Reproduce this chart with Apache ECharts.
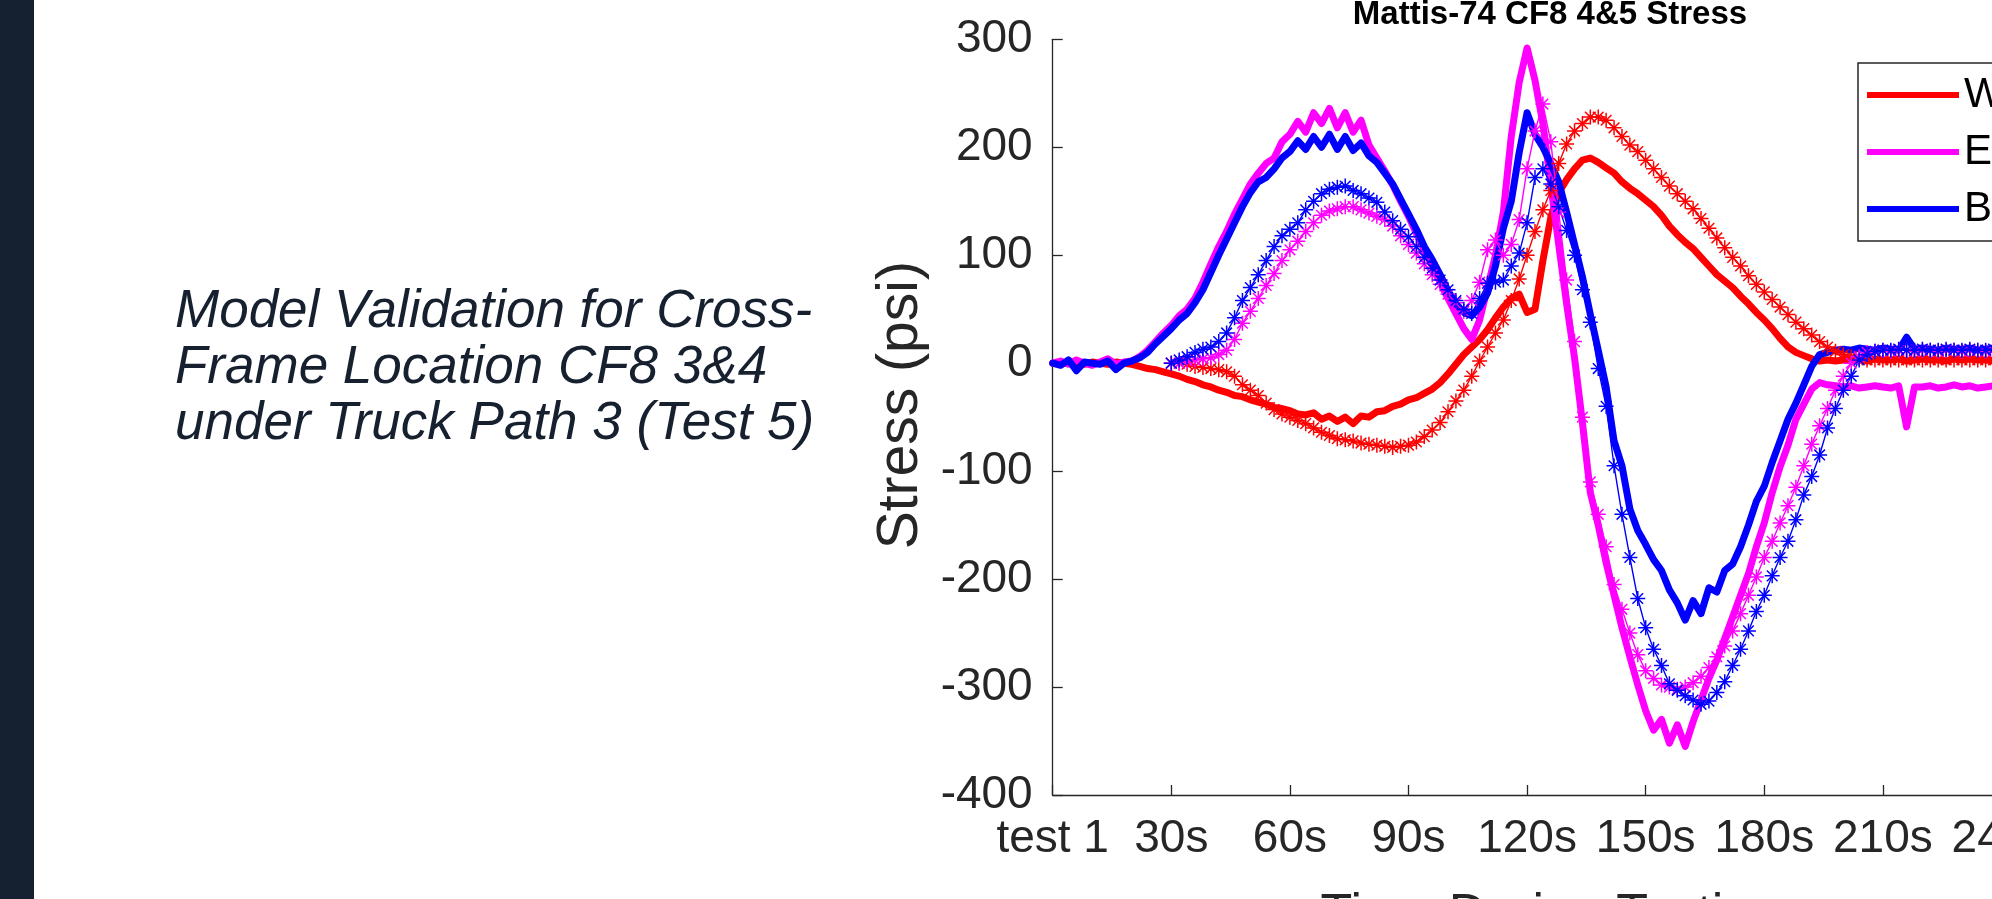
<!DOCTYPE html>
<html><head><meta charset="utf-8">
<script src="https://cdn.jsdelivr.net/npm/echarts@6/dist/echarts.min.js"></script>
<style>html,body{margin:0;padding:0;background:#fff;overflow:hidden;}#c{width:1992px;height:899px;}</style>
</head><body><div id="c"></div>
<script>
// ---- tick labels ----
const xTickLabels = ['test 1','30s','60s','90s','120s','150s','180s','210s','240s'];

// ---- time samples (seconds) ----
const tMeasured = [
  0,2,4,6,8,10,12,14,16,18,
  20,22,24,26,28,30,32,34,36,38,
  40,42,44,46,48,50,52,54,56,58,
  60,62,64,66,68,70,72,74,76,78,
  80,82,84,86,88,90,92,94,96,98,
  100,102,104,106,108,110,112,114,116,118,
  120,122,124,126,128,130,132,134,136,138,
  140,142,144,146,148,150,152,154,156,158,
  160,162,164,166,168,170,172,174,176,178,
  180,182,184,186,188,190,192,194,196,198,
  200,202,204,206,208,210,212,214,216,218,
  220,222,224,226,228,230,232,234,236,238,
  240,242,244,246,248,250
];
const tModel = [
  30,32,34,36,38,40,42,44,46,48,
  50,52,54,56,58,60,62,64,66,68,
  70,72,74,76,78,80,82,84,86,88,
  90,92,94,96,98,100,102,104,106,108,
  110,112,114,116,118,120,122,124,126,128,
  130,132,134,136,138,140,142,144,146,148,
  150,152,154,156,158,160,162,164,166,168,
  170,172,174,176,178,180,182,184,186,188,
  190,192,194,196,198,200,202,204,206,208,
  210,212,214,216,218,220,222,224,226,228,
  230,232,234,236,238,240,242,244,246,248,
  250
];

// ---- measured stress (psi) ----
const westMeasured = [
  0,-1,1,0,-1,1,0,-1,1,0,
  -1,-3,-5,-6,-8,-10,-12,-15,-17,-20,
  -22,-25,-27,-30,-31,-34,-36,-38,-41,-42,
  -44,-47,-48,-46,-52,-49,-54,-50,-56,-49,
  -50,-45,-44,-40,-38,-34,-32,-28,-24,-18,
  -10,-1,8,15,22,31,42,52,60,64,
  47,50,95,135,158,170,180,188,190,186,
  181,176,168,162,157,151,145,137,127,119,
  112,106,98,90,82,76,70,62,55,47,
  40,32,23,15,10,7,4,2,3,2,
  3,4,3,2,4,3,3,4,2,3,
  4,3,3,2,4,3,4,3,3,2,
  4,3,3,4,3,3
];
const eastMeasured = [
  0,2,-1,3,0,-2,1,4,-1,1,
  2,6,12,20,28,35,44,50,60,75,
  92,108,122,138,152,166,176,185,190,205,
  212,224,214,232,222,236,218,232,214,225,
  202,190,178,165,150,136,120,105,90,75,
  60,46,32,22,40,70,100,140,210,260,
  292,262,222,165,110,55,5,-55,-120,-150,
  -185,-215,-245,-272,-298,-322,-340,-330,-352,-335,
  -355,-332,-312,-292,-275,-255,-235,-215,-195,-170,
  -148,-120,-96,-76,-52,-38,-24,-18,-20,-21,
  -22,-21,-23,-22,-21,-22,-23,-21,-59,-22,
  -22,-21,-23,-22,-20,-22,-21,-23,-22,-21,
  -22,-20,-22,-21,-23,-22
];
const bottomMeasured = [
  0,-2,3,-7,1,0,-1,2,-6,0,
  2,5,10,18,25,32,40,46,56,68,
  84,100,115,130,145,158,168,172,180,190,
  196,206,198,210,200,212,198,210,197,204,
  192,186,176,166,152,138,124,108,96,82,
  67,55,47,44,52,65,90,125,150,195,
  232,212,200,185,168,140,110,80,45,12,
  -22,-72,-95,-135,-155,-168,-182,-192,-210,-222,
  -238,-220,-232,-208,-212,-192,-186,-170,-150,-128,
  -114,-92,-72,-52,-37,-20,-3,8,10,12,
  13,12,14,13,12,14,13,12,24,13,
  14,13,12,14,13,13,14,12,13,14,
  13,12,14,13,13,14
];

// ---- model stress (psi) ----
const westModel = [
  0,0,-1,-3,-4,-5,-6,-8,-12,-20,
  -25,-30,-37,-43,-47,-50,-53,-56,-60,-64,
  -67,-70,-71,-72,-74,-75,-76,-77,-78,-77,
  -76,-73,-68,-62,-55,-45,-35,-25,-12,2,
  15,28,40,58,78,100,122,142,160,185,
  203,215,222,228,228,225,218,210,202,196,
  188,180,172,164,157,150,143,134,125,116,
  107,98,90,81,73,66,59,52,45,38,
  32,26,20,15,11,8,6,4,3,3,
  3,3,3,3,3,3,3,3,3,3,
  3,3,3,3,3,3,3,3,3,3,
  3
];
const eastModel = [
  0,0,2,3,4,5,8,12,22,37,
  48,60,72,83,95,105,113,122,130,137,
  141,143,145,145,142,139,136,133,127,118,
  110,102,92,82,73,64,56,48,58,75,
  105,114,100,110,133,180,215,240,205,140,
  77,20,-50,-110,-140,-170,-205,-228,-250,-270,
  -285,-292,-298,-300,-302,-300,-296,-290,-282,-272,
  -262,-248,-232,-215,-198,-180,-165,-148,-132,-115,
  -95,-75,-58,-42,-25,-12,0,6,10,11,
  12,11,12,12,11,12,12,11,12,12,
  11,12,12,11,12,12,11,12,12,11,
  12
];
const bottomModel = [
  0,3,6,10,13,15,20,28,42,58,
  70,82,95,108,118,124,130,142,150,157,
  161,163,164,160,157,153,149,140,132,124,
  117,108,98,88,77,68,58,50,46,60,
  74,75,77,90,102,130,172,180,166,145,
  123,100,68,38,-5,-40,-95,-140,-180,-218,
  -245,-265,-280,-297,-303,-308,-312,-316,-313,-305,
  -295,-280,-265,-248,-230,-215,-197,-180,-165,-145,
  -122,-105,-85,-60,-42,-25,-12,3,8,11,
  12,12,13,12,12,13,12,12,13,12,
  12,13,12,12,13,12,12,13,12,12,
  12
];

const legendNames = ['West', 'East', 'Bottom'];

// ---- build ----
const FONT = '"Liberation Sans", Arial, Helvetica, sans-serif';
const TXT = '#262626';
const zip = (ts, vs) => ts.map((t, i) => [t, vs[i]]);
const STAR = 'path://M-1,-10L1,-10L1,10L-1,10Z M-10,-1L10,-1L10,1L-10,1Z M-7.8,-6.4L-6.4,-7.8L7.8,6.4L6.4,7.8Z M6.4,-7.8L7.8,-6.4L-6.4,7.8L-7.8,6.4Z';

function measured(name, color, vals) {
  return {
    name, type: 'line', data: zip(tMeasured, vals), symbol: 'none',
    color, lineStyle: { color, width: 7, join: 'round', cap: 'round' },
    animation: false, silent: true
  };
}
function model(name, color, vals) {
  return {
    name, type: 'line', data: zip(tModel, vals),
    symbol: STAR, symbolSize: 15, showSymbol: true, showAllSymbol: true,
    color, itemStyle: { color, borderWidth: 0 },
    lineStyle: { color, width: 1.4 },
    animation: false, silent: true
  };
}

const chart = echarts.init(document.getElementById('c'), null, { renderer: 'canvas' });
chart.setOption({
  animation: false,
  backgroundColor: '#ffffff',
  title: {
    text: 'Mattis-74 CF8 4&5 Stress',
    left: 1550, top: -2, padding: 0, textAlign: 'center',
    textStyle: { fontFamily: FONT, fontSize: 33, fontWeight: 'bold', color: '#000' }
  },
  graphic: [
    { type: 'rect', shape: { x: 0, y: 0, width: 34, height: 899 }, style: { fill: '#152031' }, silent: true },
    { type: 'text', x: 175, y: 284, silent: true,
      style: { text: 'Model Validation for Cross-\nFrame Location CF8 3&4\nunder Truck Path 3 (Test 5)',
               fontFamily: FONT, fontStyle: 'italic', fontSize: 53, lineHeight: 56,
               fill: '#17202f', verticalAlign: 'top', align: 'left' } }
  ],
  legend: {
    data: legendNames, orient: 'vertical', left: 1858, top: 63,
    padding: [11, 60, 11, 9], itemGap: 15, itemWidth: 92, itemHeight: 6, icon: 'rect',
    textStyle: { fontFamily: FONT, fontSize: 42, color: '#000', lineHeight: 42 },
    borderColor: TXT, borderWidth: 1.5, backgroundColor: '#fff', selectedMode: false
  },
  grid: { left: 1052.7, top: 39.3, width: 996.2, height: 755.7, containLabel: false, outerBoundsMode: 'none' },
  xAxis: {
    type: 'value', min: 0, max: 252, interval: 30,
    axisLine: { show: true, onZero: false, lineStyle: { color: TXT, width: 1.3 } },
    axisTick: { show: true, inside: true, length: 10, lineStyle: { color: TXT, width: 1.3 } },
    axisLabel: { show: true, margin: 21, fontFamily: FONT, fontSize: 46, color: TXT,
      formatter: v => (v % 30 === 0 && xTickLabels[v / 30] !== undefined) ? xTickLabels[v / 30] : '' },
    splitLine: { show: false },
    name: 'Time During Testing', nameLocation: 'middle', nameGap: 95,
    nameTextStyle: { fontFamily: FONT, fontSize: 52, color: TXT }
  },
  yAxis: {
    type: 'value', min: -400, max: 300, interval: 100,
    axisLine: { show: true, onZero: false, lineStyle: { color: TXT, width: 1.3 } },
    axisTick: { show: true, inside: true, length: 10, lineStyle: { color: TXT, width: 1.3 } },
    axisLabel: { show: true, margin: 20, fontFamily: FONT, fontSize: 46, color: TXT },
    splitLine: { show: false },
    name: 'Stress (psi)', nameLocation: 'middle', nameRotate: 90, nameGap: 119,
    nameTextStyle: { fontFamily: FONT, fontSize: 57, color: TXT, padding: [0, 0, 0, 24] }
  },
  series: [
    measured(legendNames[0], '#ff0000', westMeasured),
    measured(legendNames[1], '#ff00ff', eastMeasured),
    measured(legendNames[2], '#0000ff', bottomMeasured),
    model('West Model', '#ff0000', westModel),
    model('East Model', '#ff00ff', eastModel),
    model('Bottom Model', '#0000ff', bottomModel)
  ]
});
</script>
</body></html>
